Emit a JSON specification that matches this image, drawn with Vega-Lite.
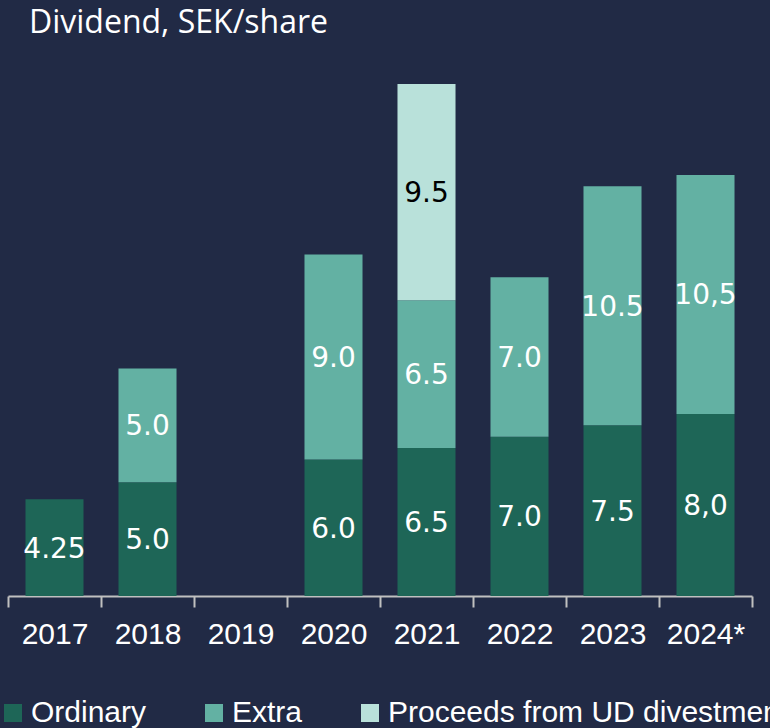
{
  "$schema": "https://vega.github.io/schema/vega-lite/v6.json",
  "autosize": {"type": "none"},
  "padding": {"top": 45, "left": 8, "right": 18, "bottom": 132},
  "width": 744,
  "height": 551,
  "background": "#212a45",
  "title": {
    "text": "Dividend, SEK/share",
    "anchor": "start",
    "frame": "group",
    "dx": 21,
    "offset": 5,
    "font": "Open Sans",
    "fontSize": 32,
    "fontWeight": "normal",
    "color": "white"
  },
  "config": {
    "view": {"stroke": null},
    "axis": {"grid": false}
  },
  "data": {
    "values": [
      {"year": "2017", "type": "Ordinary", "k": 1, "value": 4.25, "label": "4.25"},
      {"year": "2018", "type": "Ordinary", "k": 1, "value": 5.0, "label": "5.0"},
      {"year": "2018", "type": "Extra", "k": 2, "value": 5.0, "label": "5.0"},
      {"year": "2020", "type": "Ordinary", "k": 1, "value": 6.0, "label": "6.0"},
      {"year": "2020", "type": "Extra", "k": 2, "value": 9.0, "label": "9.0"},
      {"year": "2021", "type": "Ordinary", "k": 1, "value": 6.5, "label": "6.5"},
      {"year": "2021", "type": "Extra", "k": 2, "value": 6.5, "label": "6.5"},
      {"year": "2021", "type": "Proceeds from UD divestment", "k": 3, "value": 9.5, "label": "9.5"},
      {"year": "2022", "type": "Ordinary", "k": 1, "value": 7.0, "label": "7.0"},
      {"year": "2022", "type": "Extra", "k": 2, "value": 7.0, "label": "7.0"},
      {"year": "2023", "type": "Ordinary", "k": 1, "value": 7.5, "label": "7.5"},
      {"year": "2023", "type": "Extra", "k": 2, "value": 10.5, "label": "10.5"},
      {"year": "2024*", "type": "Ordinary", "k": 1, "value": 8.0, "label": "8,0"},
      {"year": "2024*", "type": "Extra", "k": 2, "value": 10.5, "label": "10,5"}
    ]
  },
  "encoding": {
    "x": {
      "field": "year",
      "type": "nominal",
      "sort": null,
      "scale": {
        "domain": ["2017", "2018", "2019", "2020", "2021", "2022", "2023", "2024*"],
        "paddingInner": 0,
        "paddingOuter": 0
      },
      "axis": {
        "title": null,
        "labelAngle": 0,
        "tickBand": "extent",
        "domainColor": "#c0c0c0",
        "domainWidth": 2,
        "tickColor": "#c0c0c0",
        "tickWidth": 2,
        "tickSize": 11,
        "labelFont": "Liberation Sans",
        "labelFontSize": 30,
        "labelColor": "white",
        "labelPadding": 12
      }
    },
    "y": {
      "field": "value",
      "type": "quantitative",
      "stack": "zero",
      "scale": {"domain": [0, 24.21], "nice": false},
      "axis": null
    },
    "order": {"field": "k", "type": "quantitative"}
  },
  "layer": [
    {
      "mark": {"type": "bar", "width": {"band": 0.624}},
      "encoding": {
        "color": {
          "field": "type",
          "type": "nominal",
          "scale": {
            "domain": ["Ordinary", "Extra", "Proceeds from UD divestment"],
            "range": ["#1e6657", "#63b1a3", "#b9e1da"]
          },
          "legend": {
            "title": null,
            "orient": "none",
            "legendX": -10,
            "legendY": 653,
            "direction": "horizontal",
            "gridAlign": "none",
            "padding": 0,
            "symbolType": "square",
            "symbolSize": 324,
            "symbolStrokeWidth": 0,
            "symbolOpacity": 1,
            "labelFont": "Liberation Sans",
            "labelFontSize": 30,
            "labelColor": "white",
            "labelOffset": 3,
            "labelLimit": 0,
            "columnPadding": 52
          }
        }
      }
    },
    {
      "mark": {"type": "text", "font": "DejaVu Sans", "fontSize": 28, "baseline": "middle", "dy": 2},
      "encoding": {
        "y": {"field": "value", "type": "quantitative", "stack": "zero", "bandPosition": 0.5},
        "detail": {"field": "type"},
        "text": {"field": "label"},
        "color": {
          "condition": {"test": "datum.type === 'Proceeds from UD divestment'", "value": "black"},
          "value": "white"
        }
      }
    }
  ]
}
